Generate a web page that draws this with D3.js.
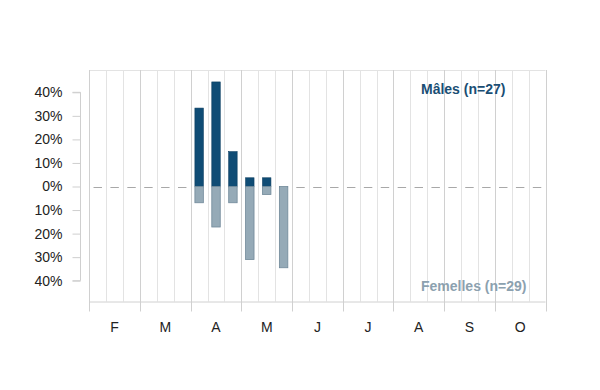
<!DOCTYPE html>
<html>
<head>
<meta charset="utf-8">
<script src="https://cdn.jsdelivr.net/npm/d3@7"></script>
<style>
  html, body { margin: 0; padding: 0; background: #fff; }
  svg { display: block; font-family: "Liberation Sans", Arial, Helvetica, sans-serif; }
</style>
</head>
<body>
<svg id="chart" width="600" height="390"></svg>
<script>
// ---- data ----
const months = ["F", "M", "A", "M", "J", "J", "A", "S", "O"];
// decade (10-day period) index from start of February (0..26)
const decades = d3.range(27);
const barDecades = [6, 7, 8, 9, 10, 11];
const males = [33.3, 44.4, 14.8, 3.7, 3.7, 0];      // % of males (n=27)
const females = [6.9, 17.2, 6.9, 31.0, 3.4, 34.5];  // % of females (n=29)
const yTicks = [-40, -30, -20, -10, 0, 10, 20, 30, 40];
const maleLabel = "Mâles (n=27)";
const femaleLabel = "Femelles (n=29)";

// ---- layout ----
const svg = d3.select("#chart");
const pLeft = 89.3, pRight = 545.5, pTop = 70, pBottom = 301.5;

const xBand = d3.scaleBand().domain(decades).range([pLeft, pRight]).paddingInner(0.5).paddingOuter(0.25);
const xDec = d3.scaleLinear().domain([0, 27]).range([pLeft, pRight]);
const xMonth = d3.scaleBand().domain(d3.range(months.length)).range([pLeft, pRight]);
const y = d3.scaleLinear().domain([-40, 40]).range([280.7, 92.3]);

const gridLight = "#e3e3e3", gridDark = "#d0d0d0";

// top border
svg.append("line").attr("x1", pLeft).attr("x2", pRight).attr("y1", pTop + 0.5).attr("y2", pTop + 0.5)
  .attr("stroke", gridLight);

// vertical grid (decades)
svg.append("g").selectAll("line").data(d3.range(28)).join("line")
  .attr("x1", d => Math.round(xDec(d)) + 0.5).attr("x2", d => Math.round(xDec(d)) + 0.5)
  .attr("y1", pTop).attr("y2", d => d % 3 === 0 ? pBottom + 10 : pBottom)
  .attr("stroke", d => d % 3 === 0 ? gridDark : gridLight);

// bottom axis line
svg.append("line").attr("x1", pLeft).attr("x2", pRight).attr("y1", pBottom + 0.5).attr("y2", pBottom + 0.5)
  .attr("stroke", gridDark);

// zero dashed line
const half = (xDec(1) - xDec(0)) / 2;
svg.append("line").attr("x1", xDec(0) + half / 2).attr("x2", pRight - 2)
  .attr("y1", Math.round(y(0)) + 0.5).attr("y2", Math.round(y(0)) + 0.5)
  .attr("stroke", "#a8a8a8").attr("stroke-width", 1)
  .attr("stroke-dasharray", `${half},${half}`);

// bars
const bars = svg.append("g");
bars.selectAll("rect.m").data(males).join("rect").attr("class", "m")
  .attr("x", (d, i) => xBand(barDecades[i]))
  .attr("width", xBand.bandwidth())
  .attr("y", d => y(d))
  .attr("height", d => y(0) - y(d))
  .attr("fill", "#0f4c75")
  .attr("stroke", "#0a3d60").attr("stroke-width", d => d > 0 ? 0.6 : 0);
bars.selectAll("rect.f").data(females).join("rect").attr("class", "f")
  .attr("x", (d, i) => xBand(barDecades[i]))
  .attr("width", xBand.bandwidth())
  .attr("y", y(0))
  .attr("height", d => y(-d) - y(0))
  .attr("fill", "#95aab7")
  .attr("stroke", "#71899a").attr("stroke-width", 0.8);

// y axis
const yAxis = d3.axisLeft(y).tickValues(yTicks).tickSize(8).tickPadding(10)
  .tickFormat(d => Math.abs(d) + "%");
const ga = svg.append("g").attr("transform", "translate(80.5,0)").call(yAxis);
ga.select(".domain").attr("stroke", "#cfcfcf").attr("d", `M-8,${y(40)}H0V${y(-40)}H-8`);
ga.selectAll(".tick line").attr("stroke", "#cfcfcf");
ga.selectAll(".tick text").attr("font-size", 14).attr("fill", "#222")
  .attr("font-family", "Liberation Sans, Arial, sans-serif");

// month labels
svg.append("g").selectAll("text").data(months).join("text")
  .attr("x", (d, i) => xMonth(i) + xMonth.bandwidth() / 2)
  .attr("y", 332)
  .attr("text-anchor", "middle")
  .attr("font-size", 14).attr("fill", "#222")
  .text(d => d);

// legend labels
svg.append("text").attr("x", 421).attr("y", 94)
  .attr("font-size", 14).attr("font-weight", "bold").attr("fill", "#1a4e74")
  .text(maleLabel);
svg.append("text").attr("x", 421).attr("y", 291)
  .attr("font-size", 14).attr("font-weight", "bold").attr("fill", "#8ca1af")
  .text(femaleLabel);
</script>
</body>
</html>
